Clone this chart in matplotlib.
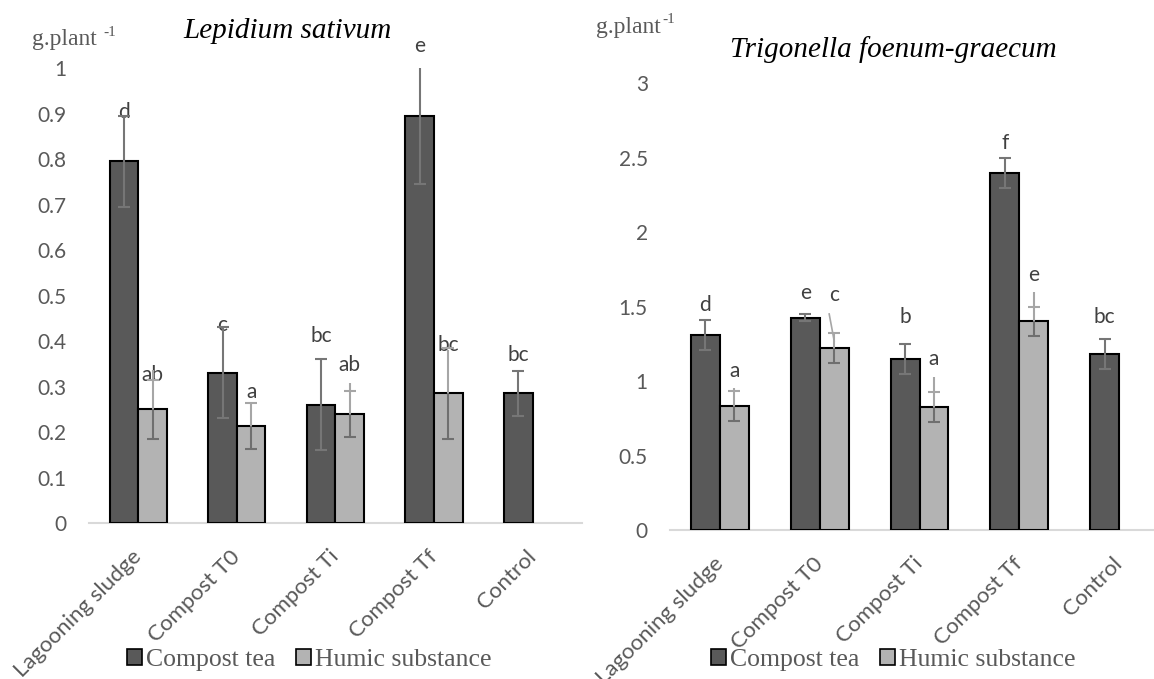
import numpy as np
import matplotlib
matplotlib.use('Agg')
import matplotlib.pyplot as plt
from matplotlib.patches import Patch

# --- data (g.plant-1) ---
categories = ['Lagooning sludge', 'Compost T0', 'Compost Ti', 'Compost Tf', 'Control']
series_names = ['Compost tea', 'Humic substance']

# Lepidium sativum
lep_tea = [0.795, 0.33, 0.26, 0.895, 0.285]
lep_tea_err = [0.1, 0.1, 0.1, 0.15, 0.05]
lep_hs = [0.25, 0.213, 0.24, 0.285]
lep_hs_err = [0.065, 0.05, 0.05, 0.1]
lep_hs_top = [0.336, 0.262, 0.308, 0.38]   # upper whisker line runs a bit past the cap
lep_tea_letters = ['d', 'c', 'bc', 'e', 'bc']
lep_tea_letter_y = [0.903, 0.435, 0.41, 1.048, 0.369]
lep_hs_letters = ['ab', 'a', 'ab', 'bc']
lep_hs_letter_y = [0.325, 0.288, 0.347, 0.391]

# Trigonella foenum-graecum
tri_tea = [1.31, 1.425, 1.15, 2.395, 1.18]
tri_tea_err = [0.1, 0.025, 0.1, 0.1, 0.1]
tri_hs = [0.83, 1.22, 0.825, 1.40]
tri_hs_err = [0.1, 0.1, 0.1, 0.1]
tri_hs_top = [0.953, 1.315, 1.03, 1.6]
tri_tea_letters = ['d', 'e', 'b', 'f', 'bc']
tri_tea_letter_y = [1.51, 1.59, 1.43, 2.597, 1.43]
tri_hs_letters = ['a', 'c', 'a', 'e']
tri_hs_letter_y = [1.067, 1.577, 1.148, 1.711]

# --- style ---
DARK = '#595959'
LIGHT = '#b3b3b3'
TXT = '#595959'
W = 0.29
plt.rcParams['font.family'] = ['Lato', 'DejaVu Sans']
SERIF = ['Liberation Serif', 'DejaVu Serif']


def whisker(ax, x, y, err, top, c_lo, c_hi):
    ax.vlines(x, y - err, y, color=c_lo, lw=1.5, zorder=4)
    ax.vlines(x, y, top, color=c_hi, lw=1.5, zorder=4)
    ax.plot([x], [y - err], marker='_', ms=9, mew=1.5, color=c_lo, zorder=4)
    ax.plot([x], [y + err], marker='_', ms=9, mew=1.5, color=c_hi, zorder=4)


def panel(ax, tea, tea_err, hs, hs_err, hs_top, tl, tly, hl, hly, ymax, ystep):
    x = np.arange(len(categories))
    xt = x - W / 2
    xh = x[:len(hs)] + W / 2
    ax.bar(xt, tea, W, color=DARK, edgecolor='black', lw=1.5, zorder=2)
    ax.bar(xh, hs, W, color=LIGHT, edgecolor='black', lw=1.5, zorder=2)
    for i in range(len(tea)):
        whisker(ax, xt[i], tea[i], tea_err[i], tea[i] + tea_err[i], '#767676', '#767676')
        ax.text(xt[i], tly[i], tl[i], ha='center', va='center', fontsize=15, color='#404040')
    for i in range(len(hs)):
        whisker(ax, xh[i], hs[i], hs_err[i], hs_top[i], '#6f6f6f', '#a6a6a6')
        ax.text(xh[i], hly[i], hl[i], ha='center', va='center', fontsize=15, color='#404040')

    ticks = np.arange(0, ymax + ystep / 2, ystep)
    ax.set_xlim(-0.5, len(categories) - 0.5)
    ax.set_ylim(0, ymax)
    ax.set_yticks(ticks)
    ax.set_yticklabels(['%g' % v for v in ticks])
    ax.set_xticks(x)
    ax.set_xticklabels(categories, rotation=45, ha='right', va='center',
                       rotation_mode='anchor', fontsize=16)
    ax.tick_params(axis='both', length=0, labelcolor=TXT)
    ax.tick_params(axis='y', pad=16, labelsize=15)
    ax.tick_params(axis='x', pad=22)
    for s in ['top', 'right', 'left']:
        ax.spines[s].set_visible(False)
    ax.spines['bottom'].set_color('#d9d9d9')
    ax.spines['bottom'].set_linewidth(1.5)
    ax.spines['bottom'].set_zorder(1)


fig = plt.figure(figsize=(11.54, 6.79), dpi=100)
ax1 = fig.add_axes([0.0771, 0.2297, 0.4272, 0.6701])
ax2 = fig.add_axes([0.5806, 0.2194, 0.4324, 0.6583])

panel(ax1, lep_tea, lep_tea_err, lep_hs, lep_hs_err, lep_hs_top,
      lep_tea_letters, lep_tea_letter_y, lep_hs_letters, lep_hs_letter_y, 1.0, 0.1)
panel(ax2, tri_tea, tri_tea_err, tri_hs, tri_hs_err, tri_hs_top,
      tri_tea_letters, tri_tea_letter_y, tri_hs_letters, tri_hs_letter_y, 3.0, 0.5)

# leader line from the "c" label down to its bar
ax2.plot([1.095, 1.145], [1.45, 1.27], color='#a6a6a6', lw=1.2, zorder=4)

# titles
fig.text(287 / 1154, 1 - 31 / 679, 'Lepidium sativum', ha='center', va='center',
         fontsize=21, style='italic', family=SERIF, color='black')
fig.text(893 / 1154, 1 - 50 / 679, 'Trigonella foenum-graecum', ha='center', va='center',
         fontsize=21, style='italic', family=SERIF, color='black')

# unit labels with a plain hyphen superscript
for xpos, ypos, gap in [(32, 40, 5), (596, 27, 1)]:
    t = fig.text(xpos / 1154, 1 - ypos / 679, 'g.plant', ha='left', va='center',
                 fontsize=17, family=SERIF, color=TXT)
    ax1.annotate('-1', xy=(1.0, 0.85), xycoords=t, xytext=(gap, 0),
                 textcoords='offset points', ha='left', va='center',
                 fontsize=11, family=SERIF, color=TXT, annotation_clip=False)

handles = [Patch(facecolor=DARK, edgecolor='black', lw=1.2),
           Patch(facecolor=LIGHT, edgecolor='black', lw=1.2)]
for cx in [309 / 1154, 893 / 1154]:
    fig.legend(handles, series_names, loc='center', bbox_to_anchor=(cx, 1 - 660 / 679),
               ncol=2, frameon=False, handlelength=0.6, handleheight=0.6,
               handletextpad=0.15, columnspacing=0.8,
               prop={'family': SERIF, 'size': 18.5}, labelcolor=TXT)

fig.savefig('out.png', dpi=100)
